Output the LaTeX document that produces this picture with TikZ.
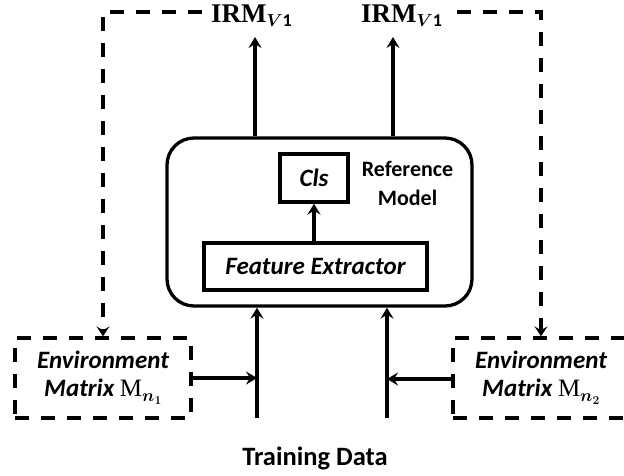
\documentclass[tikz,border=0pt]{standalone}
\usepackage{fontspec}
\setmainfont{Carlito}
\newfontfamily\serifrm{Liberation Serif}
\usetikzlibrary{arrows.meta}
\usepackage{amsmath}
\newcommand{\irmtext}{{\serifrm\bfseries IRM}{\fontsize{18}{18}\selectfont\raisebox{-4.5pt}{$\boldsymbol{V}\mathbf{1}$}}}
\newcommand{\envmat}[1]{{\upshape\mdseries\serifrm M}{\fontsize{17}{17}\selectfont\raisebox{-5pt}{\boldmath$n_{#1}$}}}
\begin{document}
\begin{tikzpicture}[x=1pt,y=-1pt,
  font=\fontsize{25}{28}\selectfont\bfseries,
  line width=3.3pt,
  solidbox/.style={draw, inner sep=0pt, minimum width=#1},
  envbox/.style={draw, dash pattern=on 14pt off 12pt, inner sep=0pt,
    minimum width=176pt, minimum height=80pt, align=center,
    font=\fontsize{25}{28}\selectfont\bfseries\itshape},
  feed/.style={dash pattern=on 14pt off 12pt, -{Stealth[length=10pt,width=13pt,inset=4pt]}},
  flow/.style={-{Stealth[length=11pt,width=13pt,inset=4pt]}}]
\useasboundingbox (0,0) rectangle (624,475);

% reference model and its parts
\node[draw, rounded corners=27pt, minimum width=305pt, minimum height=168pt] (rm) at (319.5,222) {};
\node[solidbox=68pt, minimum height=48pt, font=\fontsize{25}{28}\selectfont\bfseries\itshape] (cls) at (314,178) {Cls};
\node[solidbox=223pt, minimum height=47pt, font=\fontsize{25}{28}\selectfont\bfseries\itshape] (fe) at (315.5,266.5) {Feature Extractor};
\node[align=center, font=\fontsize{22}{29}\selectfont\bfseries] (rmlabel) at (407.5,183) {Reference\\Model};

% outputs
\node[font=\fontsize{27}{30}\selectfont, anchor=base] (irm1) at (251.5,22) {\irmtext};
\node[font=\fontsize{27}{30}\selectfont, anchor=base] (irm2) at (401.5,22) {\irmtext};

% environment matrices
\node[envbox] (env1) at (103,378) {Environment\\Matrix \envmat{1}};
\node[envbox] (env2) at (541,378) {Environment\\Matrix \envmat{2}};

% input
\node[font=\fontsize{26.5}{30}\selectfont\bfseries, anchor=base] (train) at (315,465) {Training Data};

% connectors
\coordinate (inL) at (257,418);
\coordinate (inR) at (387,418);
\coordinate (outL) at (255,37);
\coordinate (outR) at (393,37);
\coordinate (lvlL) at (0,378);
\coordinate (lvlR) at (0,379);
\draw[flow] (fe.north -| cls) -- (cls.south);
\draw[flow] (rm.north -| outL) -- (outL);
\draw[flow] (rm.north -| outR) -- (outR);
\draw[flow] (inL) -- (inL |- rm.south);
\draw[flow] (inR) -- (inR |- rm.south);
\draw[flow] (env1.east |- lvlL) -- (inL |- lvlL);
\draw[flow] (env2.west |- lvlR) -- (inR |- lvlR);

% feedback from the outputs to the environment matrices
\coordinate (fbL) at (202,12);
\coordinate (fbR) at (457,12);
\coordinate (cnL) at (103,12);
\coordinate (cnR) at (541,12);
\draw[feed] (fbL) -- (cnL) -- (cnL |- env1.north);
\draw[feed] (fbR) -- (cnR) -- (cnR |- env2.north);
\end{tikzpicture}
\end{document}
